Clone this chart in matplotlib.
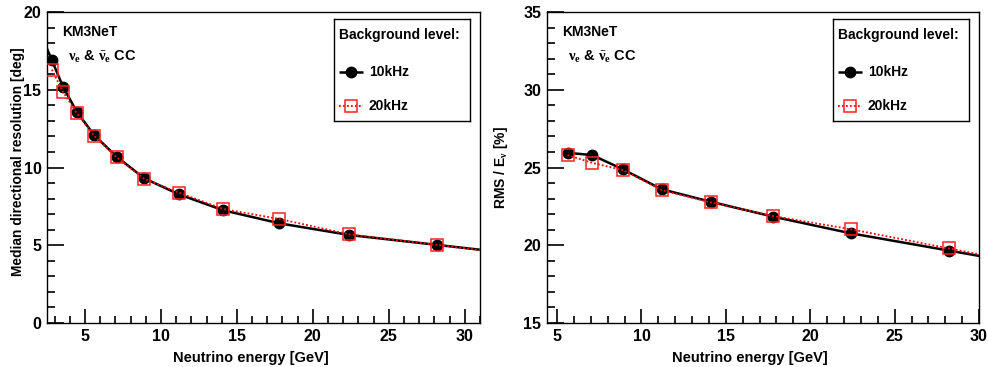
import numpy as np
import matplotlib
matplotlib.use("Agg")
import matplotlib.pyplot as plt
from matplotlib.ticker import MultipleLocator

plt.rcParams["font.family"] = ["Liberation Sans", "DejaVu Sans"]
plt.rcParams["font.weight"] = "bold"
plt.rcParams["mathtext.fontset"] = "custom"
plt.rcParams["mathtext.rm"] = "Liberation Serif"
plt.rcParams["mathtext.it"] = "Liberation Serif"
plt.rcParams["mathtext.bf"] = "Liberation Sans:bold"

# left panel: median directional resolution [deg]
energy_dir = [2.82, 3.55, 4.47, 5.62, 7.08, 8.91, 11.2, 14.1, 17.8, 22.4, 28.2]
dir_10khz = [16.9, 15.2, 13.57, 12.07, 10.7, 9.3, 8.27, 7.25, 6.41, 5.66, 5.02]
dir_20khz = [16.3, 14.87, 13.48, 12.03, 10.66, 9.26, 8.38, 7.33, 6.69, 5.7, 5.02]

# right panel: energy resolution RMS / E [%]
energy_rms = [5.62, 7.08, 8.91, 11.2, 14.1, 17.8, 22.4, 28.2]
rms_10khz = [25.95, 25.8, 24.88, 23.6, 22.8, 21.84, 20.77, 19.66]
rms_20khz = [25.8, 25.3, 24.84, 23.55, 22.76, 21.88, 21.03, 19.8]

legend_title = "Background level:"
labels = ["10kHz", "20kHz"]


def extend(x, y, xmin=None, xmax=None):
    # continue the curve linearly to the frame edges
    x = list(x)
    y = list(y)
    if xmax is not None:
        s = (y[-1] - y[-2]) / (x[-1] - x[-2])
        x.append(xmax)
        y.append(y[-1] + s * (xmax - x[-2]))
    if xmin is not None:
        s = (y[1] - y[0]) / (x[1] - x[0])
        y.insert(0, y[0] + s * (xmin - x[0]))
        x.insert(0, xmin)
    return x, y


def style_axes(ax, xlim, ylim, ylabel, ylabel_size, xlabel_x):
    ax.set_xlim(*xlim)
    ax.set_ylim(*ylim)
    ax.xaxis.set_major_locator(MultipleLocator(5))
    ax.xaxis.set_minor_locator(MultipleLocator(1))
    ax.yaxis.set_major_locator(MultipleLocator(5))
    ax.yaxis.set_minor_locator(MultipleLocator(1))
    ax.tick_params(which="both", direction="in", top=False, right=False,
                   labelsize=11.5, width=1.2)
    ax.tick_params(axis="y", which="major", length=12, pad=4)
    ax.tick_params(axis="y", which="minor", length=6)
    ax.tick_params(axis="x", which="major", length=10, pad=4)
    ax.tick_params(axis="x", which="minor", length=5)
    for lab in ax.get_xticklabels() + ax.get_yticklabels():
        lab.set_fontweight("bold")
    for sp in ax.spines.values():
        sp.set_linewidth(1.0)
    ax.set_ylabel(ylabel, fontsize=ylabel_size, fontweight="bold")
    ax.yaxis.set_label_coords(-0.052, 0.52)
    ax.set_xlabel("Neutrino energy [GeV]", fontsize=10.5, fontweight="bold")
    ax.xaxis.set_label_coords(xlabel_x, -0.09)
    ax.text(0.035, 0.935, "KM3NeT", transform=ax.transAxes, fontsize=10,
            fontweight="bold", va="center")
    ax.text(0.048, 0.855, r"$\mathrm{\nu_e}$ & $\mathrm{\bar{\nu}_e}$ CC",
            transform=ax.transAxes, fontsize=10.5, fontweight="bold", va="center")


def legend_box(fig, x0, y0, w, h):
    box = fig.add_axes([x0, y0, w, h])
    box.set_xlim(0, 1)
    box.set_ylim(0, 1)
    box.set_xticks([])
    box.set_yticks([])
    for sp in box.spines.values():
        sp.set_linewidth(1.0)
    box.text(0.04, 0.84, legend_title, fontsize=10, fontweight="bold",
             va="center")
    box.plot([0.035, 0.125, 0.215], [0.48, 0.48, 0.48], color="black", lw=1.8,
             marker="o", markersize=7.5, markevery=[1], solid_capstyle="butt")
    box.plot([0.035, 0.125, 0.215], [0.15, 0.15, 0.15], color="red", lw=1.3,
             ls=(0, (1, 1.2)), marker="s", markersize=8, markevery=[1],
             markerfacecolor="none", markeredgecolor="#ff2020", markeredgewidth=1.1)
    box.text(0.255, 0.48, labels[0], fontsize=10, fontweight="bold", va="center")
    box.text(0.255, 0.15, labels[1], fontsize=10, fontweight="bold", va="center")


def draw(ax, x, y10, y20, xlim, extend_left):
    bx, by = extend(x, y10, xmin=xlim[0] if extend_left else None, xmax=xlim[1])
    rx, ry = extend(x, y20, xmax=xlim[1])
    ax.plot(bx, by, color="black", lw=1.8, zorder=2)
    ax.plot(x, y10, ls="none", marker="o", markersize=7.5, color="black", zorder=3)
    ax.plot(rx, ry, color="red", lw=1.3, ls=(0, (1, 1.2)), zorder=4)
    ax.plot(x, y20, ls="none", marker="s", markersize=8, markerfacecolor="none",
            markeredgecolor="#ff2020", markeredgewidth=1.1, zorder=5)


fig = plt.figure(figsize=(9.88, 3.67), dpi=100)
ax1 = fig.add_axes([0.0476, 0.120, 0.4382, 0.847])
ax2 = fig.add_axes([0.5536, 0.120, 0.4373, 0.847])

draw(ax1, energy_dir, dir_10khz, dir_20khz, (2.5, 31), True)
style_axes(ax1, (2.5, 31), (0, 20), "Median directional resolution [deg]", 9.9, 0.47)
draw(ax2, energy_rms, rms_10khz, rms_20khz, (4.4, 30), False)
style_axes(ax2, (4.4, 30), (15, 35), r"RMS / E$_{\nu}$ [%]", 10, 0.47)
ax2.yaxis.set_label_coords(-0.085, 0.5)

legend_box(fig, 334 / 988, 1 - 121 / 367, 136 / 988, 102 / 367)
legend_box(fig, 833 / 988, 1 - 121 / 367, 136 / 988, 102 / 367)

fig.savefig("out.png", dpi=100)
